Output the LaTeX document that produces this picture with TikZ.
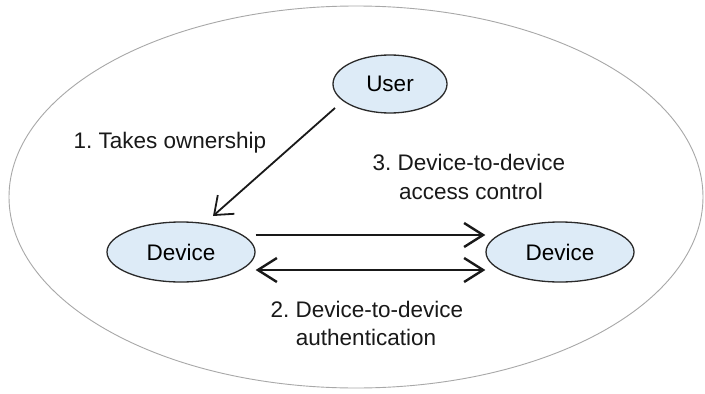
\documentclass[tikz,border=0pt]{standalone}
\usepackage{fontspec}
\setmainfont{Liberation Sans}
\frenchspacing
\usetikzlibrary{arrows.meta,shapes.geometric}
\definecolor{nodefill}{HTML}{DDEBF7}
\definecolor{nodeline}{HTML}{2A2A2A}
\definecolor{outerline}{HTML}{A8A8A8}
\tikzset{
  devnode/.style={ellipse, draw=nodeline, line width=1.3pt, fill=nodefill, inner sep=0pt, font=\fontsize{22.5}{26}\selectfont},
  lbl/.style={font=\fontsize{22.5}{26}\selectfont, text=black!90, inner sep=0pt, anchor=base},
  barb/.tip={Straight Barb[length=19pt,width=24pt,line width=2.4pt]},
  arr/.style={line width=2.6pt, draw=black!90, -barb},
  darr/.style={line width=2.6pt, draw=black!90, barb-barb},
  diagarr/.style={line width=1.8pt, draw=black!90, -{Straight Barb[length=16pt,width=25pt,line width=1.8pt]}}
}
\begin{document}
\begin{tikzpicture}[x=1pt,y=-1pt]
\useasboundingbox (0,0) rectangle (705,394);
\fill[white] (0,0) rectangle (705,394);
\draw[outerline, line width=0.9pt] (356,197) ellipse [x radius=347, y radius=191];
\node[devnode, minimum width=114pt, minimum height=58pt] (user) at (390,84) {User};
\node[devnode, minimum width=148pt, minimum height=60pt] (dl) at (181,252) {Device};
\node[devnode, minimum width=148pt, minimum height=60pt] (dr) at (560,252) {Device};
\draw[diagarr] ([xshift=-55pt,yshift=-24pt]user.center) -- ([xshift=32pt,yshift=36pt]dl.center);
\draw[arr] ([yshift=17pt]dl.east) -- ([yshift=17pt]dr.west);
\draw[darr] ([yshift=-18pt]dl.east) -- ([yshift=-18pt]dr.west);
\node[lbl] (l1) at (170,148) {1. Takes ownership};
\node[lbl] (l3a) at (469,170) {3. Device-to-device};
\node[lbl] (l3b) at (471,199) {access control};
\node[lbl] (l2a) at (367,317) {2. Device-to-device};
\node[lbl] (l2b) at (366,345) {authentication};
\end{tikzpicture}
\end{document}
